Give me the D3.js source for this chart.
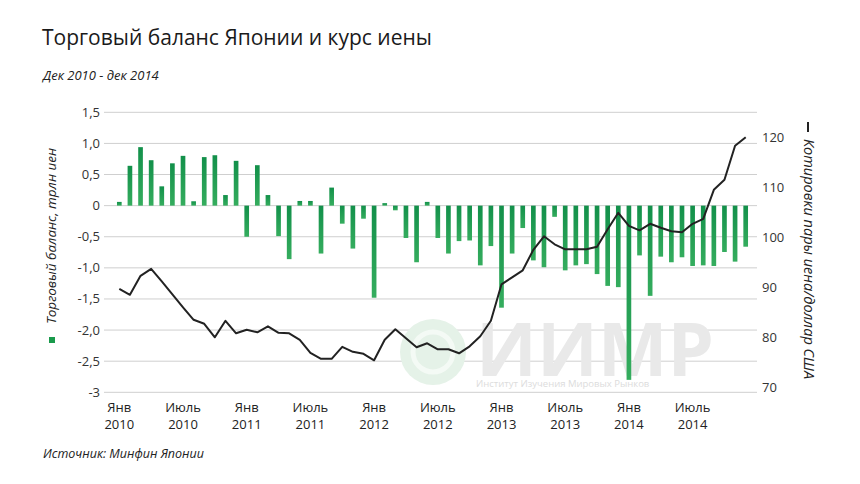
<!DOCTYPE html>
<html>
<head>
<meta charset="utf-8">
<script src="https://cdn.jsdelivr.net/npm/d3@7"></script>
<style>
  html, body { margin: 0; padding: 0; background: #fff; }
  svg { display: block; }
  text { font-family: "Open Sans", "Noto Sans", sans-serif; }
</style>
</head>
<body>
<svg id="chart" width="860" height="484"></svg>
<script>
// ---------- DATA ----------
const months = d3.range(60).map(i => `${2010 + Math.floor(i / 12)}-${String(i % 12 + 1).padStart(2, "0")}`);

// Trade balance, trillion yen (Jan 2010 – Dec 2014)
const tradeBalance = [
  0.06, 0.64, 0.94, 0.73, 0.31, 0.68, 0.80, 0.07, 0.78, 0.81, 0.17, 0.72,
  -0.50, 0.65, 0.17, -0.49, -0.86, 0.075, 0.075, -0.77, 0.29, -0.29, -0.69, -0.21,
  -1.48, 0.04, -0.075, -0.52, -0.91, 0.06, -0.52, -0.77, -0.57, -0.56, -0.96, -0.65,
  -1.64, -0.77, -0.36, -0.88, -0.99, -0.18, -1.04, -0.96, -0.94, -1.10, -1.29, -1.31,
  -2.80, -0.80, -1.45, -0.82, -0.91, -0.83, -0.97, -0.96, -0.97, -0.745, -0.90, -0.66
];

// USD/JPY quotes
const usdJpy = [
  89.7, 88.5, 92.3, 93.7, 91.2, 88.6, 86.0, 83.5, 82.7, 80.0, 83.3, 80.8,
  81.5, 81.0, 82.2, 80.9, 80.8, 79.5, 76.9, 75.7, 75.7, 78.1, 77.1, 76.7,
  75.4, 79.5, 81.6, 79.8, 78.0, 78.8, 77.6, 77.6, 76.8, 78.2, 80.2, 83.3,
  90.6, 92.0, 93.4, 97.5, 100.2, 98.6, 97.6, 97.6, 97.6, 98.1, 101.6, 104.9,
  102.3, 101.4, 102.7, 101.9, 101.2, 101.0, 102.7, 103.7, 109.5, 111.5, 118.3, 120.0
];

const xTickMonths = ["2010-01", "2010-07", "2011-01", "2011-07", "2012-01",
  "2012-07", "2013-01", "2013-07", "2014-01", "2014-07"];
const xTickMonthNames = ["Янв", "Июль", "Янв", "Июль", "Янв", "Июль", "Янв", "Июль", "Янв", "Июль"];
const xTickYears = ["2010", "2010", "2011", "2011", "2012", "2012", "2013", "2013", "2014", "2014"];
const leftTicks = [1.5, 1.0, 0.5, 0, -0.5, -1.0, -1.5, -2.0, -2.5, -3];
const leftTickText = ["1,5", "1,0", "0,5", "0", "-0,5", "-1,0", "-1,5", "-2,0", "-2,5", "-3"];
const rightTicks = [70, 80, 90, 100, 110, 120];

// ---------- LAYOUT ----------
const svg = d3.select("#chart");
const plot = { left: 104, right: 757, top: 112.3, bottom: 392.3 };

const yL = d3.scaleLinear().domain([-3, 1.5]).range([plot.bottom, plot.top]);
const yR = d3.scaleLinear().domain([69, 125]).range([plot.bottom, plot.top]);
const x = d3.scaleBand().domain(months).range([114, 751]).paddingInner(0.56).paddingOuter(0.28);
const xc = m => x(m) + x.bandwidth() / 2;

const green = "#1a9a4c";
const defs = svg.append("defs");
const grad = defs.append("linearGradient").attr("id", "barGrad")
  .attr("x1", 0).attr("y1", 0).attr("x2", 0).attr("y2", 1);
grad.append("stop").attr("offset", "0%").attr("stop-color", "#12904a");
grad.append("stop").attr("offset", "100%").attr("stop-color", "#35ad5e");

// Title & subtitle
svg.append("text").attr("x", 42).attr("y", 45)
  .attr("font-size", 21).attr("fill", "#1a1a1a")
  .text("Торговый баланс Японии и курс иены");
svg.append("text").attr("x", 43).attr("y", 80)
  .attr("font-size", 13).attr("font-style", "italic").attr("fill", "#222")
  .text("Дек 2010 - дек 2014");

// Gridlines
svg.append("g").selectAll("line").data(leftTicks).join("line")
  .attr("x1", plot.left).attr("x2", plot.right)
  .attr("y1", d => yL(d)).attr("y2", d => yL(d))
  .attr("stroke", "#cfcfcf").attr("stroke-width", 1);

// Watermark
const wm = svg.append("g");
wm.append("circle").attr("cx", 433).attr("cy", 352).attr("r", 33).attr("fill", "#e5f2e8");
wm.append("circle").attr("cx", 433).attr("cy", 352).attr("r", 20).attr("fill", "none")
  .attr("stroke", "#f4faf5").attr("stroke-width", 5);
wm.append("text").attr("x", 476).attr("y", 376)
  .attr("font-size", 74).attr("font-weight", 700).attr("fill", "#e9e9e9")
  .text("ИИМР");
wm.append("text").attr("x", 476).attr("y", 387)
  .attr("font-size", 9.5).attr("fill", "#dcdcdc")
  .text("Институт Изучения Мировых Рынков");

// Left tick labels
svg.append("g").selectAll("text").data(leftTicks).join("text")
  .attr("x", 100).attr("y", d => yL(d) + 4.5)
  .attr("text-anchor", "end").attr("font-size", 13).attr("fill", "#333")
  .text((d, i) => leftTickText[i]);

// Right tick labels
svg.append("g").selectAll("text").data(rightTicks).join("text")
  .attr("x", 762).attr("y", d => yR(d) + 4.5)
  .attr("text-anchor", "start").attr("font-size", 13).attr("fill", "#333")
  .text(d => d);

// Bars
svg.append("g").selectAll("rect").data(tradeBalance).join("rect")
  .attr("x", (d, i) => x(months[i]))
  .attr("width", x.bandwidth())
  .attr("y", d => yL(Math.max(0, d)))
  .attr("height", d => Math.abs(yL(d) - yL(0)))
  .attr("fill", "url(#barGrad)");

// Line
const line = d3.line()
  .x((d, i) => xc(months[i]))
  .y(d => yR(d));
svg.append("path").datum(usdJpy)
  .attr("d", line).attr("fill", "none")
  .attr("stroke", "#222").attr("stroke-width", 2).attr("stroke-linejoin", "round");

// X labels (two rows)
svg.append("g").selectAll("text").data(xTickMonthNames).join("text")
  .attr("text-anchor", "middle").attr("font-size", 13).attr("fill", "#222")
  .attr("x", (d, i) => xc(xTickMonths[i])).attr("y", 412).text(d => d);
svg.append("g").selectAll("text").data(xTickYears).join("text")
  .attr("text-anchor", "middle").attr("font-size", 13).attr("fill", "#222")
  .attr("x", (d, i) => xc(xTickMonths[i])).attr("y", 429).text(d => d);

// Left axis title + legend square
svg.append("text")
  .attr("transform", "translate(56,236) rotate(-90)")
  .attr("text-anchor", "middle").attr("font-size", 13.5).attr("font-style", "italic").attr("fill", "#222")
  .text("Торговый баланс, трлн иен");
svg.append("rect").attr("x", 49).attr("y", 337).attr("width", 6).attr("height", 6).attr("fill", green);

// Right axis title + legend line
svg.append("line").attr("x1", 808).attr("x2", 808).attr("y1", 122).attr("y2", 132)
  .attr("stroke", "#222").attr("stroke-width", 2);
svg.append("text")
  .attr("transform", "translate(804,259) rotate(90)")
  .attr("text-anchor", "middle").attr("font-size", 14.5).attr("font-style", "italic").attr("fill", "#222")
  .text("Котировки пары иена/доллар США");

// Source
svg.append("text").attr("x", 43).attr("y", 458)
  .attr("font-size", 12.5).attr("font-style", "italic").attr("fill", "#222")
  .text("Источник: Минфин Японии");
</script>
</body>
</html>
